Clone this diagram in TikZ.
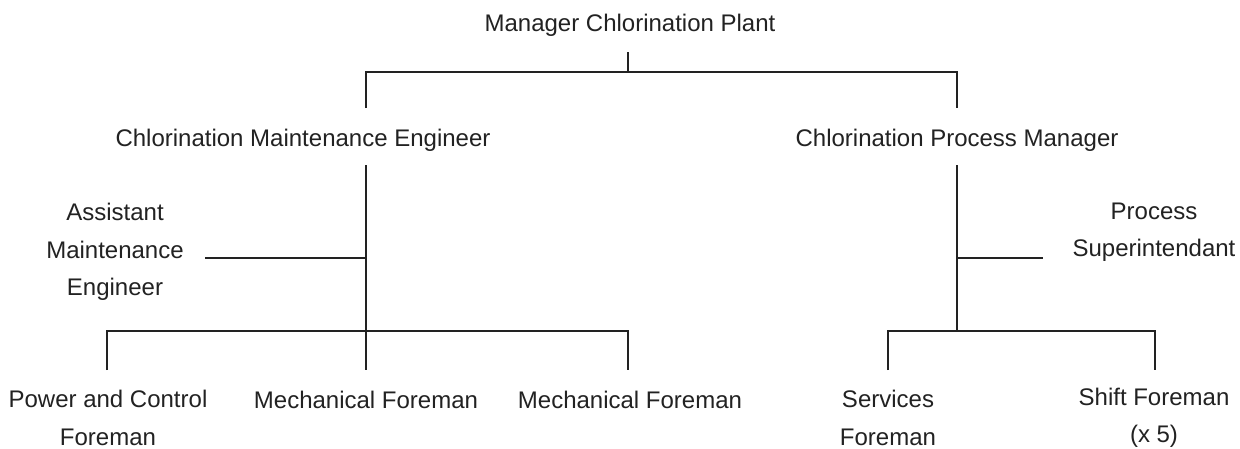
\documentclass[tikz,border=0pt]{standalone}
\usepackage{fontspec}
\setmainfont{Liberation Sans}
\definecolor{txt}{HTML}{222222}
\definecolor{ln}{HTML}{222222}
\begin{document}
\begin{tikzpicture}[x=1pt,y=-1pt,
  lbl/.style={inner sep=0pt, align=center, text=txt, font=\fontsize{24}{37.5}\selectfont},
  conn/.style={draw=ln, line width=2.2pt, line join=miter}]
\useasboundingbox[fill=white] (0,0) rectangle (1240,448);
% nodes
\node[lbl] (mgr) at (630,25) {Manager Chlorination Plant};
\node[lbl] (cme) at (303,140) {Chlorination Maintenance Engineer};
\node[lbl] (cpm) at (957,140) {Chlorination Process Manager};
\node[lbl] (ame) at (115,252) {Assistant\\Maintenance\\Engineer};
\node[lbl] (ps) at (1154,232) {Process\\Superintendant};
\node[lbl] (pcf) at (108,418) {Power and Control\\Foreman};
\node[lbl] (mf1) at (366,400) {Mechanical Foreman};
\node[lbl] (mf2) at (630,400) {Mechanical Foreman};
\node[lbl] (sf) at (888,418) {Services\\Foreman};
\node[lbl] (shf) at (1154,418) {Shift Foreman\\(x 5)};
% connector end points
\coordinate (mgrS) at (628,52);
\coordinate (topJ) at (628,72);
\coordinate (cmeT) at (366,108);
\coordinate (cpmT) at (957,108);
\coordinate (cmeB) at (366,165);
\coordinate (lJ) at (366,258);
\coordinate (ameR) at (205,258);
\coordinate (lbJ) at (366,331);
\coordinate (pcfT) at (107,370);
\coordinate (mf1T) at (366,370);
\coordinate (mf2T) at (628,370);
\coordinate (cpmB) at (957,165);
\coordinate (rJ) at (957,258);
\coordinate (psL) at (1043,258);
\coordinate (rbJ) at (957,331);
\coordinate (sfT) at (888,370);
\coordinate (shfT) at (1155,370);
% connectors
\draw[conn] (mgrS) -- (topJ);
\draw[conn] (cmeT) |- (topJ) -| (cpmT);
\draw[conn] (cmeB) -- (lbJ);
\draw[conn] (ameR) -- (lJ);
\draw[conn] (pcfT) |- (lbJ) -| (mf2T);
\draw[conn] (lbJ) -- (mf1T);
\draw[conn] (cpmB) -- (rbJ);
\draw[conn] (rJ) -- (psL);
\draw[conn] (sfT) |- (rbJ) -| (shfT);
\end{tikzpicture}
\end{document}
